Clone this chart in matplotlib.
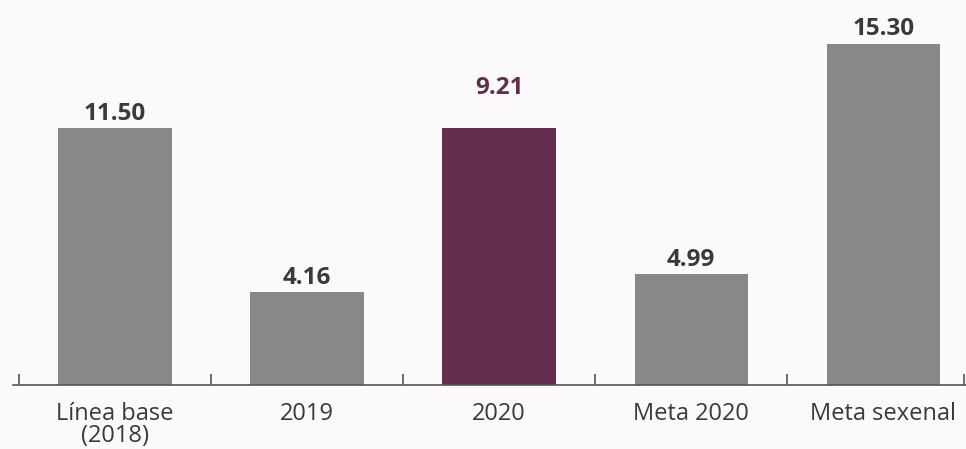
import matplotlib
matplotlib.use("Agg")
import matplotlib.pyplot as plt
import numpy as np

categories = ["Línea base\n(2018)", "2019", "2020", "Meta 2020", "Meta sexenal"]
bar_heights = [11.50, 4.16, 11.50, 4.99, 15.30]
value_labels = ["11.50", "4.16", "9.21", "4.99", "15.30"]
bar_colors = ["#888888", "#888888", "#632d4f", "#888888", "#888888"]
label_colors = ["#3a3a3a", "#3a3a3a", "#632d4f", "#3a3a3a", "#3a3a3a"]
label_extra = [0, 0, 19, 0, 0]  # points of extra lift for the label

bg = "#fcf9fa"
fig = plt.figure(figsize=(9.66, 4.49), dpi=100, facecolor=bg)
ax = fig.add_axes([13 / 966, 64 / 449, 1 - 13 / 966, 1 - 64 / 449])
ax.set_facecolor(bg)

x = np.arange(len(categories))
ax.bar(x, bar_heights, width=0.59, color=bar_colors, zorder=2)

for xi, h, lab, c, ex in zip(x, bar_heights, value_labels, label_colors, label_extra):
    ax.annotate(lab, (xi, h), xytext=(0, 1.5 + ex), textcoords="offset points",
                ha="center", va="bottom", fontsize=17.5, fontweight="bold",
                color=c, family=["Open Sans", "DejaVu Sans"])

ax.set_xlim(-0.53, 4.43)
ax.set_ylim(0, 17.25)

for s in ["top", "right", "left"]:
    ax.spines[s].set_visible(False)
ax.spines["bottom"].set_color("#555555")
ax.spines["bottom"].set_linewidth(1.2)
ax.set_yticks([])

ax.set_xticks(x)
ax.set_xticklabels(categories, fontsize=17, color="#3a3a3a", family=["Open Sans", "DejaVu Sans"],
                   linespacing=0.92)
ax.tick_params(axis="x", which="major", length=0, pad=12)
ax.set_xticks(np.arange(-0.5, len(categories) - 0.5, 1.0).tolist() + [4.42], minor=True)
ax.tick_params(axis="x", which="minor", direction="in", length=8, width=1.2, color="#555555")

fig.savefig("out.png", dpi=100, facecolor=bg)
